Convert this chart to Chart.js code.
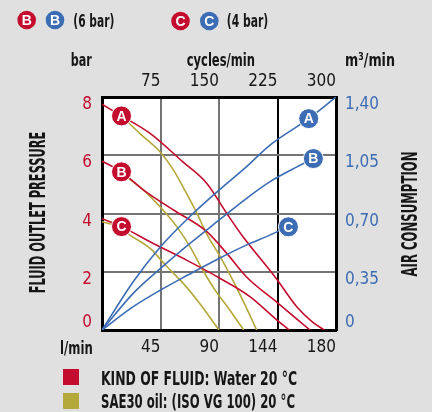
<!DOCTYPE html>
<html>
<head>
<meta charset="utf-8">
<script src="https://cdn.jsdelivr.net/npm/chart.js@4.4.1/dist/chart.umd.min.js"></script>
<style>
  html, body { margin: 0; padding: 0; background: #e0e0e0; }
  canvas { display: block; }
</style>
</head>
<body>
<canvas id="chart" width="432" height="412"></canvas>
<script>
// --- Data ---
// fluid outlet pressure (bar) against flow (l/min), water
const waterAFlow = [0, 15, 37, 62, 80.5, 96, 108.5, 134, 149.8, 162, 171];
const waterAPressure = [7.75, 7.35, 6.75, 5.78, 5.04, 4.0, 3.2, 1.77, 0.8, 0.27, 0];
const waterBFlow = [0, 15, 32, 55, 80, 96, 111, 134.6, 160];
const waterBPressure = [5.8, 5.43, 4.8, 4.12, 3.4, 2.63, 1.83, 0.95, 0];
const waterCFlow = [0, 15, 39.5, 65, 91, 114, 134.6, 144];
const waterCPressure = [3.82, 3.55, 2.97, 2.4, 1.77, 1.14, 0.34, 0];

// same, SAE30 oil
const oilAFlow = [15, 29, 44.6, 55, 65, 73, 80.5, 91, 101, 110, 119];
const oilAPressure = [7.35, 6.75, 6.12, 5.49, 4.69, 4.01, 3.3, 2.51, 1.68, 0.86, 0];
const oilBFlow = [15, 19, 30.5, 44.6, 57.5, 67.7, 76.7, 87, 97.7, 109];
const oilBPressure = [5.43, 5.26, 4.86, 4.23, 3.55, 2.86, 2.12, 1.37, 0.72, 0];
const oilCFlow = [0, 15, 21.5, 37, 50, 62.5, 75, 90];
const oilCPressure = [3.72, 3.5, 3.26, 2.8, 2.17, 1.6, 0.92, 0];

// air consumption (m3/min) against cycles/min
const airACycles = [0, 40, 75, 110, 150, 185, 215, 265, 300];
const airAValues = [0, 0.29, 0.5, 0.67, 0.84, 0.98, 1.11, 1.27, 1.4];
const airBCycles = [0, 40, 75, 110, 150, 185, 215, 250, 271];
const airBValues = [0, 0.22, 0.37, 0.51, 0.66, 0.79, 0.89, 0.98, 1.03];
const airCCycles = [0, 40, 75, 110, 150, 185, 215, 238];
const airCValues = [0, 0.14, 0.24, 0.33, 0.43, 0.51, 0.57, 0.62];

// letter markers
const markerLetters = ["A", "B", "C"];
const pressureMarkerFlow = [15, 15, 15];
const pressureMarkerValues = [7.35, 5.43, 3.55];
const airMarkerCycles = [265, 271, 239];
const airMarkerValues = [1.27, 1.03, 0.62];

// tick labels
const flowTickValues = [0, 45, 90, 135, 180];
const flowTickLabels = ["", "45", "90", "144", "180"];
const cycleTickValues = [0, 75, 150, 225, 300];
const cycleTickLabels = ["", "75", "150", "225", "300"];
const pressureTickValues = [0, 2, 4, 6, 8];
const pressureTickLabels = ["0", "2", "4", "6", "8"];
const airTickValues = [0, 0.35, 0.7, 1.05, 1.4];
const airTickLabels = ["0", "0,35", "0,70", "1,05", "1,40"];

// --- Styles ---
const RED = "#c40c2e";
const BLUE = "#3c6cb4";
const OLIVE = "#b4a83a";
const INK = "#161616";
const GRID = "#747474";
const FONT = '"Liberation Sans Narrow", "DejaVu Sans Condensed", "Liberation Sans", sans-serif';

function points(xs, ys) {
    return xs.map((x, i) => ({ x: x, y: ys[i] }));
}

function curve(xs, ys, color, xAxis, yAxis, order) {
    return {
        data: points(xs, ys),
        borderColor: color,
        borderWidth: 1.6,
        pointRadius: 0,
        cubicInterpolationMode: "monotone",
        xAxisID: xAxis,
        yAxisID: yAxis,
        order: order
    };
}

function markers(xs, ys, color, xAxis, yAxis) {
    return {
        data: points(xs, ys),
        showLine: false,
        pointRadius: 10,
        pointHoverRadius: 10,
        pointBackgroundColor: color,
        pointBorderColor: "#ffffff",
        pointBorderWidth: 1,
        xAxisID: xAxis,
        yAxisID: yAxis,
        order: 0,
        letters: markerLetters
    };
}

// draws text squeezed to a given width (the original uses a condensed face)
function fitText(ctx, str, x, y, width, size, opts = {}) {
    ctx.save();
    ctx.font = `${opts.weight || "bold"} ${size}px ${FONT}`;
    const w = ctx.measureText(str).width;
    ctx.translate(x, y);
    if (opts.rotate) ctx.rotate(opts.rotate);
    ctx.scale(width / w, 1);
    ctx.textAlign = opts.align || "left";
    ctx.textBaseline = "alphabetic";
    ctx.fillStyle = opts.color || INK;
    ctx.fillText(str, 0, 0);
    ctx.restore();
}

function badge(ctx, x, y, r, color, letter) {
    ctx.save();
    ctx.beginPath();
    ctx.arc(x, y, r, 0, Math.PI * 2);
    ctx.fillStyle = color;
    ctx.fill();
    ctx.font = `bold 14px "Liberation Sans", Arial, sans-serif`;
    ctx.fillStyle = "#ffffff";
    ctx.textAlign = "center";
    ctx.textBaseline = "middle";
    ctx.fillText(letter, x, y + 1);
    ctx.restore();
}

const overlay = {
    id: "overlay",
    beforeDraw(chart) {
        const { ctx, chartArea: a } = chart;
        ctx.save();
        ctx.fillStyle = "#ffffff";
        ctx.fillRect(a.left, a.top, a.right - a.left, a.bottom - a.top);
        ctx.restore();
    },
    afterDatasetsDraw(chart) {
        const ctx = chart.ctx;
        chart.data.datasets.forEach((ds, i) => {
            if (!ds.letters) return;
            chart.getDatasetMeta(i).data.forEach((pt, j) => {
                ctx.save();
                ctx.font = `bold 14px "Liberation Sans", Arial, sans-serif`;
                ctx.fillStyle = "#ffffff";
                ctx.textAlign = "center";
                ctx.textBaseline = "middle";
                ctx.fillText(ds.letters[j], pt.x, pt.y + 1);
                ctx.restore();
            });
        });
    },
    afterDraw(chart) {
        const ctx = chart.ctx;
        // top key
        badge(ctx, 26.7, 20, 9.3, RED, "B");
        badge(ctx, 55, 20, 9.3, BLUE, "B");
        fitText(ctx, "(6 bar)", 73.3, 26.7, 41, 17.5);
        badge(ctx, 180.5, 21, 9.3, RED, "C");
        badge(ctx, 209.3, 21, 9.3, BLUE, "C");
        fitText(ctx, "(4 bar)", 226.7, 27, 41.5, 17.5);

        // units
        fitText(ctx, "bar", 70.7, 66, 21, 18);
        fitText(ctx, "cycles/min", 186.7, 66, 68.3, 18);
        fitText(ctx, "m³/min", 345, 65.5, 50, 18);
        fitText(ctx, "l/min", 60, 354, 32.7, 18);

        // axis titles
        fitText(ctx, "FLUID OUTLET PRESSURE", 45, 212.5, 161.7, 20.5, { rotate: -Math.PI / 2, align: "center" });
        fitText(ctx, "AIR CONSUMPTION", 416.7, 214, 125, 20.5, { rotate: -Math.PI / 2, align: "center" });

        // fluid key
        ctx.save();
        ctx.fillStyle = RED;
        ctx.fillRect(63, 369, 16, 16);
        ctx.fillStyle = OLIVE;
        ctx.fillRect(63, 393, 16, 16);
        ctx.restore();
        fitText(ctx, "KIND OF FLUID: Water 20 °C", 101, 384.5, 196, 19.5);
        fitText(ctx, "SAE30 oil: (ISO VG 100) 20 °C", 101, 408.3, 194, 19.5);
    }
};

function fixedTicks(values) {
    return scale => { scale.ticks = values.map(v => ({ value: v })); };
}

const tickFont = { family: FONT, size: 17 };
const sideFont = { family: FONT, size: 17, lineHeight: 0.9 };

new Chart(document.getElementById("chart"), {
    type: "line",
    data: {
        datasets: [
            markers(pressureMarkerFlow, pressureMarkerValues, RED, "x", "y"),
            markers(airMarkerCycles, airMarkerValues, BLUE, "x2", "y2"),
            curve(airACycles, airAValues, BLUE, "x2", "y2", 1),
            curve(airBCycles, airBValues, BLUE, "x2", "y2", 1),
            curve(airCCycles, airCValues, BLUE, "x2", "y2", 1),
            curve(waterAFlow, waterAPressure, RED, "x", "y", 2),
            curve(waterBFlow, waterBPressure, RED, "x", "y", 2),
            curve(waterCFlow, waterCPressure, RED, "x", "y", 2),
            curve(oilAFlow, oilAPressure, OLIVE, "x", "y", 3),
            curve(oilBFlow, oilBPressure, OLIVE, "x", "y", 3),
            curve(oilCFlow, oilCPressure, OLIVE, "x", "y", 3)
        ]
    },
    options: {
        responsive: false,
        animation: false,
        devicePixelRatio: 1,
        layout: { padding: 0 },
        plugins: { legend: { display: false }, tooltip: { enabled: false } },
        events: [],
        scales: {
            x: {
                type: "linear", position: "bottom", min: 0, max: 180,
                afterBuildTicks: fixedTicks(flowTickValues),
                afterFit: s => { s.height = 82; },
                ticks: { font: tickFont, color: INK, align: "end", padding: 7, maxRotation: 0, autoSkip: false,
                         callback: (v, i) => flowTickLabels[i] },
                grid: { drawTicks: false, lineWidth: 2,
                        color: c => (c.tick && c.tick.value === 135) ? "#000000" : GRID },
                border: { color: "#000000", width: 3 }
            },
            x2: {
                type: "linear", position: "top", min: 0, max: 300,
                afterBuildTicks: fixedTicks(cycleTickValues),
                afterFit: s => { s.height = 97; },
                ticks: { font: tickFont, color: INK, align: "end", padding: 5, maxRotation: 0, autoSkip: false,
                         callback: (v, i) => cycleTickLabels[i] },
                grid: { display: false, drawTicks: false },
                border: { color: "#000000", width: 3 }
            },
            y: {
                type: "linear", position: "left", min: 0, max: 8,
                afterBuildTicks: fixedTicks(pressureTickValues),
                afterFit: s => { s.width = 102; },
                ticks: { font: sideFont, color: RED, padding: 10, autoSkip: false,
                         callback: (v, i) => i === 0 ? [pressureTickLabels[i], ""] : ["", pressureTickLabels[i]] },
                grid: { drawTicks: false, lineWidth: 2, color: GRID },
                border: { color: "#000000", width: 3 }
            },
            y2: {
                type: "linear", position: "right", min: 0, max: 1.4,
                afterBuildTicks: fixedTicks(airTickValues),
                afterFit: s => { s.width = 96; },
                ticks: { font: sideFont, color: BLUE, padding: 9, autoSkip: false,
                         callback: (v, i) => i === 0 ? [airTickLabels[i], ""] : ["", airTickLabels[i]] },
                grid: { display: false, drawTicks: false },
                border: { color: "#000000", width: 3 }
            }
        }
    },
    plugins: [overlay]
});
</script>
</body>
</html>
